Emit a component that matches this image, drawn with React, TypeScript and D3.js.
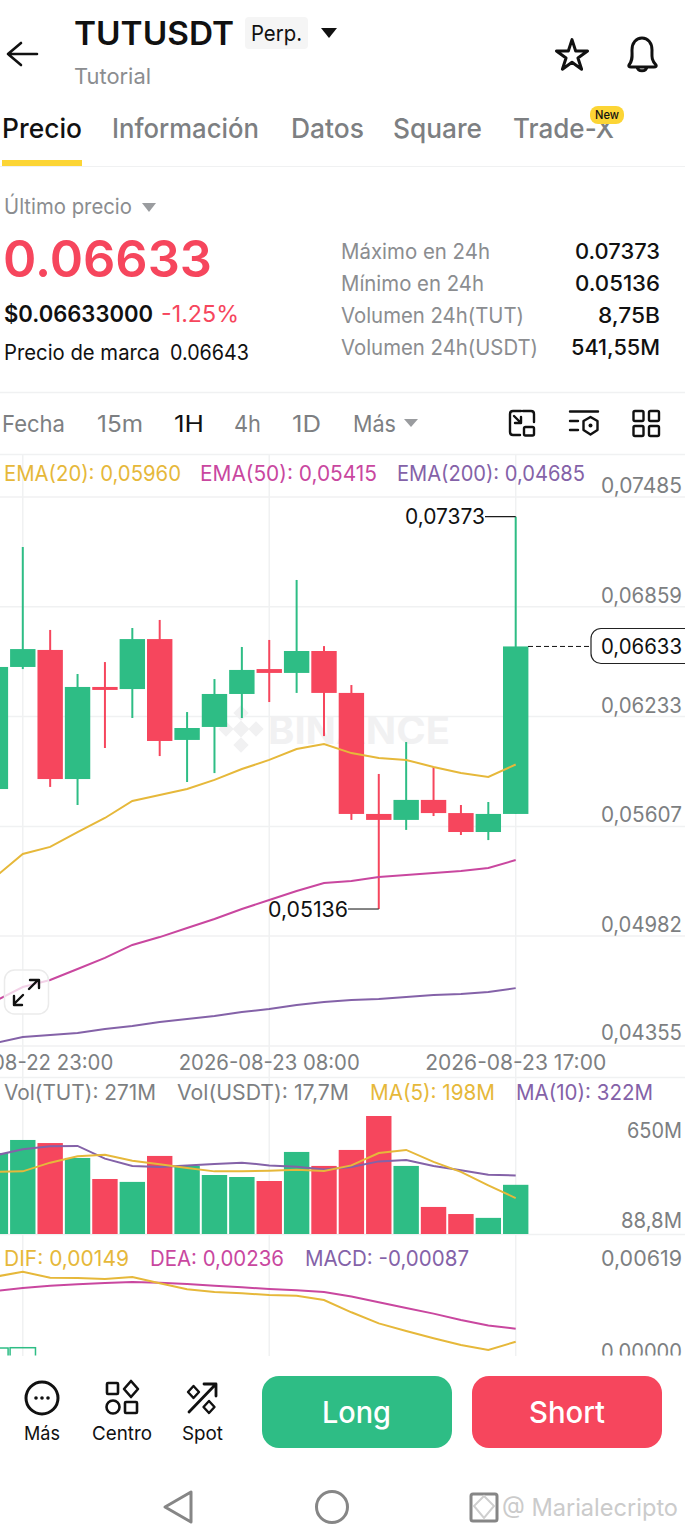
import * as d3 from "d3";
import { useLayoutEffect } from "react";

const GREEN = "#2ebd85";
const RED = "#f6465d";
const YELLOW = "#e6b83a";
const PINK = "#c9479f";
const PURPLE = "#8462a8";
const GREY = "#7d7f82";
const GRID = "#f0f1f2";

// candles, oldest first
const opens = [0.0582, 0.06516, 0.06613, 0.05877, 0.06402, 0.0639, 0.06675, 0.061, 0.06174, 0.06362, 0.06504, 0.06482, 0.06607, 0.06368, 0.05678, 0.05644, 0.05758, 0.05683, 0.05575, 0.05678];
const closes = [0.06516, 0.06618, 0.05877, 0.06402, 0.06385, 0.06675, 0.06094, 0.06168, 0.06362, 0.06499, 0.06482, 0.06607, 0.06368, 0.05678, 0.05644, 0.05758, 0.05683, 0.05575, 0.05678, 0.06633];
const highs = [0.06516, 0.072, 0.06727, 0.06476, 0.06544, 0.06738, 0.06784, 0.06259, 0.06447, 0.0663, 0.0667, 0.07012, 0.06635, 0.06413, 0.05906, 0.06088, 0.05946, 0.05729, 0.05746, 0.07373];
const lows = [0.0582, 0.06504, 0.05832, 0.05729, 0.06054, 0.06225, 0.06008, 0.0586, 0.05911, 0.06225, 0.06316, 0.06368, 0.06122, 0.05644, 0.05136, 0.05587, 0.05666, 0.05558, 0.05529, 0.05678];

const ema20 = [0.05319, 0.0545, 0.0549, 0.05575, 0.05655, 0.05752, 0.05786, 0.0582, 0.05872, 0.05934, 0.05986, 0.06048, 0.06077, 0.06025, 0.05997, 0.05986, 0.05946, 0.05911, 0.05889, 0.0596];
const ema50 = [0.04612, 0.04691, 0.04731, 0.04794, 0.04857, 0.04931, 0.04976, 0.05028, 0.05079, 0.05136, 0.05187, 0.05239, 0.05284, 0.05296, 0.05319, 0.0533, 0.05341, 0.05353, 0.0537, 0.05415];
const ema200 = [0.04372, 0.04406, 0.04418, 0.04429, 0.04452, 0.04469, 0.04492, 0.04509, 0.04526, 0.04549, 0.04566, 0.04589, 0.04606, 0.04617, 0.04623, 0.04634, 0.04646, 0.04652, 0.04663, 0.04685];

// volume in millions
const volumes = [446, 518, 501, 419, 303, 287, 430, 375, 325, 314, 292, 452, 375, 463, 650, 375, 149, 110, 88.8, 271];
const volMa5 = [342, 345, 393, 428, 437, 404, 384, 364, 345, 345, 349, 354, 347, 378, 446, 463, 397, 342, 268, 198];
const volMa10 = [433, 467, 483, 485, 415, 375, 369, 377, 386, 393, 378, 371, 356, 369, 400, 408, 375, 351, 327, 322];

const dif = [0.00584, 0.00618, 0.00578, 0.00576, 0.00569, 0.00582, 0.0054, 0.005, 0.00482, 0.00473, 0.00462, 0.00457, 0.00428, 0.00346, 0.00272, 0.00221, 0.00172, 0.00127, 0.00094, 0.00149];
const dea = [0.00489, 0.00509, 0.00524, 0.00533, 0.00542, 0.00549, 0.00544, 0.00535, 0.00524, 0.00513, 0.00502, 0.00493, 0.00482, 0.00451, 0.00413, 0.00375, 0.00337, 0.00294, 0.00257, 0.00236];
// only the first two histogram bars rise above the panel's cut-off
const macdBars = [0.00107, 0.00109];

const priceTicks = [0.07485, 0.06859, 0.06233, 0.05607, 0.04982, 0.04355];
const timeTicks = [
  { i: 1, label: "2026-08-22 23:00" },
  { i: 10, label: "2026-08-23 08:00" },
  { i: 19, label: "2026-08-23 17:00" },
];
const tabs = [
  { label: "Precio", x: 2, w: 80, color: "#111" },
  { label: "Información", x: 112, w: 147, color: GREY },
  { label: "Datos", x: 291, w: 73, color: GREY },
  { label: "Square", x: 393, w: 89, color: GREY },
  { label: "Trade-X", x: 513, w: 101, color: GREY },
];
const stats = [
  { label: "Máximo en 24h", value: "0.07373", y: 259, w: 149, vw: 85 },
  { label: "Mínimo en 24h", value: "0.05136", y: 291, w: 143, vw: 85 },
  { label: "Volumen 24h(TUT)", value: "8,75B", y: 323, w: 183, vw: 62 },
  { label: "Volumen 24h(USDT)", value: "541,55M", y: 355, w: 197, vw: 89 },
];
const frames = [
  { label: "Fecha", x: 2, w: 63 },
  { label: "15m", x: 97, w: 46 },
  { label: "1H", x: 174, w: 30 },
  { label: "4h", x: 234, w: 27 },
  { label: "1D", x: 292, w: 29 },
  { label: "Más", x: 353, w: 43 },
];
const priceLegend = [
  { label: "EMA(20): 0,05960", x: 4, w: 177, color: YELLOW },
  { label: "EMA(50): 0,05415", x: 200, w: 177, color: PINK },
  { label: "EMA(200): 0,04685", x: 397, w: 188, color: PURPLE },
];
const volLegend = [
  { label: "Vol(TUT): 271M", x: 4, w: 152, color: GREY },
  { label: "Vol(USDT): 17,7M", x: 177, w: 172, color: GREY },
  { label: "MA(5): 198M", x: 370, w: 125, color: YELLOW },
  { label: "MA(10): 322M", x: 516, w: 137, color: PURPLE },
];
const macdLegend = [
  { label: "DIF: 0,00149", x: 4, w: 125, color: YELLOW },
  { label: "DEA: 0,00236", x: 150, w: 134, color: PINK },
  { label: "MACD: -0,00087", x: 305, w: 164, color: PURPLE },
];

const x = d3.scaleLinear().domain([0, 19]).range([-4.6, 515.7]);
const yPrice = d3.scaleLinear().domain([0.04355, 0.07485]).range([1046, 497]);
const yVol = d3.scaleLinear().domain([0, 650]).range([1234, 1116]);
const yMacd = d3.scaleLinear().domain([0, 0.00619]).range([1364, 1271.5]);
const BODY = 25.4;

function series(values: number[], y: d3.ScaleLinear<number, number>) {
  return d3.line<number>().x((_, i) => x(i)).y(d => y(d))(values) ?? "";
}

type TextProps = {
  x: number; y: number; size: number; children: string;
  w?: number; fill?: string; weight?: number; anchor?: "start" | "middle" | "end";
};
function T({ x, y, size, children, w, fill = "#111", weight = 400, anchor = "start" }: TextProps) {
  return (
    <text x={x} y={y} fontSize={size} fill={fill} fontWeight={weight} textAnchor={anchor}
      textLength={w} lengthAdjust={w ? "spacingAndGlyphs" : undefined}>
      {children}
    </text>
  );
}

const icon = { fill: "none", stroke: "#111", strokeWidth: 3, strokeLinejoin: "round" as const, strokeLinecap: "round" as const };

export default function App() {
  useLayoutEffect(() => {
    document.body.style.margin = "0";
  }, []);

  const star = d3.symbol(d3.symbolStar, 300)() ?? "";

  return (
    <svg width={685} height={1532} style={{ display: "block", background: "#fff", fontFamily: "Inter, Roboto, sans-serif" }}>
      <defs>
        <clipPath id="macd-clip"><rect x={0} y={1234} width={685} height={121.5} /></clipPath>
      </defs>

      {/* header */}
      <path d="M37 54H8M21 43L8 54L21 65" {...icon} strokeWidth={2.6} />
      <T x={74} y={45} size={32} weight={600} w={160}>TUTUSDT</T>
      <rect x={245} y={17} width={63} height={32} rx={4} fill="#f5f5f5" />
      <T x={251} y={41} size={22} w={51}>Perp.</T>
      <path d="M321 28H337L329 38Z" fill="#111" />
      <T x={74} y={84} size={22} fill="#8b8d90" w={77}>Tutorial</T>
      <path d={star} transform="translate(572,56)" {...icon} />
      <path d="M629 65C633 60 632 56 632 50C632 43 636 38 642 38C648 38 652 43 652 50C652 56 651 60 656 65Q657 67 654 67H631Q628 67 629 65ZM637 67C638 72 646 72 647 67" {...icon} />

      {tabs.map(t => <T key={t.label} x={t.x} y={138} size={27} weight={500} fill={t.color} w={t.w}>{t.label}</T>)}
      <rect x={590} y={106} width={34} height={18} rx={8} fill="#fcd535" />
      <T x={607} y={119} size={12} anchor="middle" weight={500} w={24}>New</T>
      <rect x={2} y={160} width={80} height={6} fill="#fcd535" />
      <line x1={0} x2={685} y1={166.5} y2={166.5} stroke={GRID} />

      {/* price block */}
      <T x={4} y={214} size={21} fill="#8b8d90" w={128}>Último precio</T>
      <path d="M142 203H156L149 212Z" fill="#9a9c9f" />
      <T x={3} y={277} size={51} weight={600} fill={RED} w={209}>0.06633</T>
      <T x={4} y={322} size={23} weight={600} w={149}>$0.06633000</T>
      <T x={161} y={322} size={23} fill={RED} w={78}>-1.25%</T>
      <T x={4} y={360} size={21} w={156}>Precio de marca</T>
      <T x={170} y={360} size={21} w={79}>0.06643</T>
      {stats.map(s => (
        <g key={s.label}>
          <T x={341} y={s.y} size={21} fill="#8b8d90" w={s.w}>{s.label}</T>
          <T x={660 - s.vw} y={s.y} size={21} weight={500} w={s.vw}>{s.value}</T>
        </g>
      ))}
      <line x1={0} x2={685} y1={392.5} y2={392.5} stroke={GRID} strokeWidth={1.5} />

      {/* timeframes */}
      {frames.map(f => (
        <T key={f.label} x={f.x} y={432} size={23} fill={f.label === "1H" ? "#111" : GREY} w={f.w}>{f.label}</T>
      ))}
      <path d="M404 419H418L411 427Z" fill="#9a9c9f" />
      <path d="M521 411H513Q510 411 510 414V432Q510 435 513 435H520M523 411H531Q534 411 534 414V422M514 416L521 423M521 417V423H515" {...icon} strokeWidth={2.4} />
      <rect x={524} y={427} width={10} height={8.5} rx={1.5} {...icon} strokeWidth={2.4} />
      <path d="M570 411.5H598M570 421H578M570 430H578" {...icon} strokeWidth={2.4} />
      <path d="M590.5 417L597.5 421V430L590.5 434.5L583.5 430V421Z" {...icon} strokeWidth={2.4} />
      <circle cx={590.5} cy={425.5} r={2} fill="#111" />
      {[633.5, 649].flatMap(a => [411, 426].map(b => (
        <rect key={`${a}-${b}`} x={a} y={b} width={10} height={10} rx={1.5} {...icon} strokeWidth={2.4} />
      )))}

      {/* grid */}
      {timeTicks.map(t => <line key={t.i} x1={x(t.i)} x2={x(t.i)} y1={455} y2={1356} stroke={GRID} strokeWidth={1.5} />)}
      <line x1={0} x2={685} y1={454.5} y2={454.5} stroke={GRID} strokeWidth={1.5} />
      {priceTicks.map(p => <line key={p} x1={0} x2={685} y1={yPrice(p)} y2={yPrice(p)} stroke={GRID} strokeWidth={1.5} />)}
      <line x1={0} x2={685} y1={1077.5} y2={1077.5} stroke={GRID} strokeWidth={1.5} />
      <line x1={0} x2={685} y1={1234.5} y2={1234.5} stroke={GRID} strokeWidth={1.5} />

      {/* watermark */}
      <g fill="#f1f1f2">
        {[[241, 713, 5.5], [226, 729, 5.5], [256, 729, 5.5], [241, 745, 5.5], [241, 729, 6]].map(([cx, cy, r]) => (
          <path key={`${cx}-${cy}`} d={`M${cx} ${cy - r * 1.4}L${cx + r * 1.4} ${cy}L${cx} ${cy + r * 1.4}L${cx - r * 1.4} ${cy}Z`} />
        ))}
        <T x={268} y={744} size={38} weight={700} fill="#f1f1f2" w={182}>BINANCE</T>
      </g>

      {/* candles */}
      {opens.map((o, i) => {
        const c = closes[i];
        const color = c >= o ? GREEN : RED;
        const top = yPrice(Math.max(o, c));
        const bottom = yPrice(Math.min(o, c));
        return (
          <g key={i}>
            <line x1={x(i)} x2={x(i)} y1={yPrice(highs[i])} y2={yPrice(lows[i])} stroke={color} strokeWidth={2} />
            <rect x={x(i) - BODY / 2} y={top} width={BODY} height={Math.max(bottom - top, 2)} fill={color} />
          </g>
        );
      })}
      <path d={series(ema200, yPrice)} fill="none" stroke={PURPLE} strokeWidth={2} />
      <path d={series(ema50, yPrice)} fill="none" stroke={PINK} strokeWidth={2} />
      <path d={series(ema20, yPrice)} fill="none" stroke={YELLOW} strokeWidth={2} />

      {priceLegend.map(l => <T key={l.label} x={l.x} y={481} size={21} fill={l.color} w={l.w}>{l.label}</T>)}
      {priceTicks.map(p => (
        <T key={p} x={601} y={Math.min(yPrice(p) - 4, 1040)} size={21} fill={GREY} w={81}>
          {d3.format(".5f")(p).replace(".", ",")}
        </T>
      ))}

      {/* high, low, last price */}
      <path d={`M485 ${yPrice(0.07373)}H${x(19)}`} stroke="#111" strokeWidth={1.2} />
      <T x={405} y={524} size={21} w={80}>0,07373</T>
      <path d={`M348 ${yPrice(0.05136)}H${x(14)}`} stroke="#333" strokeWidth={1.2} />
      <T x={268} y={917} size={21} w={80}>0,05136</T>
      <path d={`M528 ${yPrice(0.06633)}H590`} stroke="#111" strokeDasharray="5 3" />
      <rect x={591} y={628.5} width={110} height={35} rx={10} fill="#fff" stroke="#222" strokeWidth={1.2} />
      <T x={601} y={654} size={21} w={81}>0,06633</T>

      {/* expand button */}
      <rect x={4.5} y={970} width={44} height={44} rx={10} fill="#fff" fillOpacity={0.75} stroke="#ebebeb" strokeWidth={1.5} />
      <path d="M29 989L38 980M30 980H39V988M23 995L14 1004M14 996V1005H22" {...icon} strokeWidth={2.4} />

      {timeTicks.map(t => (
        <T key={t.i} x={x(t.i) - 90.5} y={1070} size={21} fill={GREY} w={181}>{t.label}</T>
      ))}

      {/* volume */}
      {volLegend.map(l => <T key={l.label} x={l.x} y={1100} size={21} fill={l.color} w={l.w}>{l.label}</T>)}
      {volumes.map((v, i) => (
        <rect key={i} x={x(i) - BODY / 2} y={yVol(v)} width={BODY} height={yVol(0) - yVol(v)}
          fill={closes[i] >= opens[i] ? GREEN : RED} />
      ))}
      <path d={series(volMa10, yVol)} fill="none" stroke={PURPLE} strokeWidth={2} />
      <path d={series(volMa5, yVol)} fill="none" stroke={YELLOW} strokeWidth={2} />
      <T x={627} y={1138} size={21} fill={GREY} w={55}>650M</T>
      <T x={621} y={1228} size={21} fill={GREY} w={61}>88,8M</T>

      {/* macd */}
      {macdLegend.map(l => <T key={l.label} x={l.x} y={1266} size={21} fill={l.color} w={l.w}>{l.label}</T>)}
      <T x={601} y={1266} size={21} fill={GREY} w={81}>0,00619</T>
      <g clipPath="url(#macd-clip)">
        {macdBars.map((v, i) => (
          <rect key={i} x={x(i) - BODY / 2} y={yMacd(v)} width={BODY} height={yMacd(0) - yMacd(v)}
            fill="none" stroke={GREEN} strokeWidth={1.5} />
        ))}
        <path d={series(dea, yMacd)} fill="none" stroke={PINK} strokeWidth={2} />
        <path d={series(dif, yMacd)} fill="none" stroke={YELLOW} strokeWidth={2} />
        <T x={601} y={1359} size={21} fill={GREY} w={81}>0,00000</T>
      </g>

      {/* bottom bar */}
      <circle cx={42} cy={1398} r={16} {...icon} />
      {[-6, 0, 6].map(d => <circle key={d} cx={42 + d} cy={1398} r={1.8} fill="#111" />)}
      <rect x={107} y={1383} width={11} height={11} rx={1} {...icon} strokeWidth={2.6} />
      <path d="M131 1381L138 1389L131 1397L124 1389Z" {...icon} strokeWidth={2.6} />
      <circle cx={113} cy={1407} r={6.5} {...icon} strokeWidth={2.6} />
      <rect x={125} y={1402} width={12} height={11} rx={1} {...icon} strokeWidth={2.6} />
      <path d="M189 1412L215 1385M204 1384H216V1396" {...icon} strokeWidth={2.8} />
      <path d="M193.5 1386L199 1392L193.5 1398L188 1392ZM209 1401L214.5 1407L209 1413L203.5 1407Z" {...icon} strokeWidth={2.4} />
      <T x={24} y={1440} size={19} w={36}>Más</T>
      <T x={92} y={1440} size={19} w={60}>Centro</T>
      <T x={182} y={1440} size={19} w={41}>Spot</T>

      <rect x={262} y={1376} width={190} height={72} rx={17} fill={GREEN} />
      <T x={322} y={1423} size={30} weight={500} fill="#fff" w={69}>Long</T>
      <rect x={472} y={1376} width={190} height={72} rx={17} fill={RED} />
      <T x={529} y={1423} size={30} weight={500} fill="#fff" w={76}>Short</T>

      {/* system nav */}
      <path d="M191 1492V1522L165 1507Z" fill="none" stroke="#868686" strokeWidth={3} strokeLinejoin="round" />
      <circle cx={332} cy={1507} r={15.5} fill="none" stroke="#868686" strokeWidth={3} />
      <rect x={471} y={1494} width={26} height={27} rx={2} fill="none" stroke="#868686" strokeWidth={3} />
      <path d="M484 1496L494 1506L484 1518L474 1506Z" fill="#fff" stroke="#cfcfcf" strokeWidth={2} />
      <T x={502} y={1516} size={24} fill="#cbcbcb" w={176}>@ Marialecripto</T>
    </svg>
  );
}
